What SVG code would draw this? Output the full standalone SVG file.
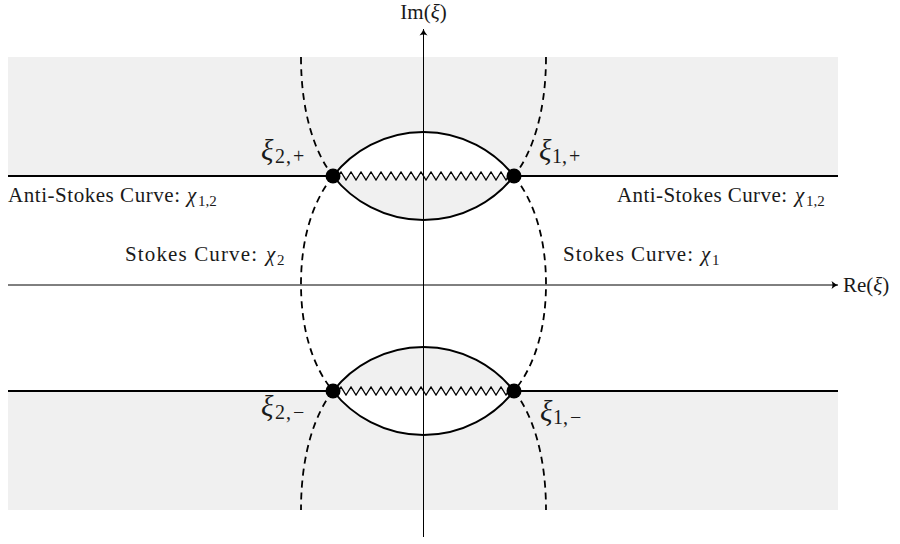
<svg xmlns="http://www.w3.org/2000/svg" width="900" height="544" viewBox="0 0 900 544">
<style>
  .region { fill: #f0f0f0; stroke: none; }
  .white { fill: #ffffff; stroke: none; }
  .axis { stroke: #000; stroke-width: 1; fill: none; }
  .thick { stroke: #000; stroke-width: 2; fill: none; }
  .dash { stroke: #000; stroke-width: 1.8; fill: none; stroke-dasharray: 7 5; }
  .zig { stroke: #000; stroke-width: 1.3; fill: none; stroke-linejoin: miter; }
  .dot { fill: #000; }
  .lbl { font-family: "Liberation Serif", "DejaVu Serif", serif; font-size: 21px; fill: #1a1a1a; }
  .mi { font-family: "Liberation Serif", "DejaVu Serif", serif; font-style: italic; fill: #1a1a1a; }
  .sub { font-family: "Liberation Serif", "DejaVu Serif", serif; fill: #1a1a1a; }
</style>
<defs>
  <marker id="arr" viewBox="-6 -5 8 10" refX="1" refY="0" markerWidth="8" markerHeight="10" markerUnits="userSpaceOnUse" orient="auto">
    <path d="M-5.5,-4 Q-2,-1 1,0 Q-2,1 -5.5,4 Q-3.5,0 -5.5,-4 Z" fill="#000"/>
  </marker>
</defs>

<g id="regions">
  <rect class="region" x="8" y="57" width="830" height="119"/>
  <rect class="region" x="8" y="391" width="830" height="119"/>
  <path class="white" d="M333,176 A115,115 0 0 1 514,176 Z"/>
  <path class="region" d="M333,176 A115,115 0 0 0 514,176 Z"/>
  <path class="region" d="M333,391 A115,115 0 0 1 514,391 Z"/>
  <path class="white" d="M333,391 A115,115 0 0 0 514,391 Z"/>
</g>

<g id="axes">
  <line class="axis" x1="8" y1="285" x2="838" y2="285" marker-end="url(#arr)"/>
  <line class="axis" x1="423.5" y1="537" x2="423.5" y2="29" marker-end="url(#arr)"/>
</g>

<g id="connectors">
  <line class="thick" x1="8" y1="176" x2="333" y2="176"/>
  <line class="thick" x1="514" y1="176" x2="838" y2="176"/>
  <line class="thick" x1="8" y1="391" x2="333" y2="391"/>
  <line class="thick" x1="514" y1="391" x2="838" y2="391"/>
  <path class="thick" d="M333,176 A115,115 0 0 1 514,176"/>
  <path class="thick" d="M333,176 A115,115 0 0 0 514,176"/>
  <path class="thick" d="M333,391 A115,115 0 0 1 514,391"/>
  <path class="thick" d="M333,391 A115,115 0 0 0 514,391"/>
  <path class="zig" d="M333,176 L338.5,176 l2.5,-4 l5,8 l5,-8 l5,8 l5,-8 l5,8 l5,-8 l5,8 l5,-8 l5,8 l5,-8 l5,8 l5,-8 l5,8 l5,-8 l5,8 l5,-8 l5,8 l5,-8 l5,8 l5,-8 l5,8 l5,-8 l5,8 l5,-8 l5,8 l5,-8 l5,8 l5,-8 l5,8 l5,-8 l5,8 l5,-8 l5,8 l2.5,-4 L514,176"/>
  <path class="zig" d="M333,391 L338.5,391 l2.5,-4 l5,8 l5,-8 l5,8 l5,-8 l5,8 l5,-8 l5,8 l5,-8 l5,8 l5,-8 l5,8 l5,-8 l5,8 l5,-8 l5,8 l5,-8 l5,8 l5,-8 l5,8 l5,-8 l5,8 l5,-8 l5,8 l5,-8 l5,8 l5,-8 l5,8 l5,-8 l5,8 l5,-8 l5,8 l5,-8 l5,8 l2.5,-4 L514,391"/>
  <path class="dash" d="M301,57 C301,115 316,155 333,176"/>
  <path class="dash" d="M333,176 C312,202 301,240 301,284 C301,328 312,366 333,391"/>
  <path class="dash" d="M333,391 C316,412 301,452 301,510"/>
  <path class="dash" d="M546,57 C546,115 531,155 514,176"/>
  <path class="dash" d="M514,176 C535,202 546,240 546,284 C546,328 535,366 514,391"/>
  <path class="dash" d="M514,391 C531,412 546,452 546,510"/>
</g>

<g id="xi2p">
  <circle class="dot" cx="333" cy="176" r="7.5"/>
  <text class="mi" x="261" y="160" font-size="29">ξ</text>
  <text class="sub" x="275 286 293" y="163" font-size="20">2,+</text>
</g>
<g id="xi1p">
  <circle class="dot" cx="514" cy="176" r="7.5"/>
  <text class="mi" x="539" y="160" font-size="29">ξ</text>
  <text class="sub" x="552 562 569" y="163" font-size="20">1,+</text>
</g>
<g id="xi2m">
  <circle class="dot" cx="333" cy="391" r="7.5"/>
  <text class="mi" x="261" y="416" font-size="29">ξ</text>
  <text class="sub" x="275 286 293" y="419" font-size="20">2,−</text>
</g>
<g id="xi1m">
  <circle class="dot" cx="514" cy="391" r="7.5"/>
  <text class="mi" x="540" y="421" font-size="29">ξ</text>
  <text class="sub" x="553 563 570" y="424" font-size="20">1,−</text>
</g>

<g id="labels">
  <text class="lbl" x="8" y="202" textLength="172" lengthAdjust="spacing">Anti-Stokes Curve:</text>
  <text class="mi" x="187" y="202" font-size="21">χ</text>
  <text class="sub" x="198" y="206" font-size="15">1,2</text>
  <text class="lbl" x="617" y="202" textLength="170" lengthAdjust="spacing">Anti-Stokes Curve:</text>
  <text class="mi" x="795" y="202" font-size="21">χ</text>
  <text class="sub" x="806" y="206" font-size="15">1,2</text>
  <text class="lbl" x="125" y="261" textLength="132" lengthAdjust="spacing">Stokes Curve:</text>
  <text class="mi" x="266" y="261" font-size="21">χ</text>
  <text class="sub" x="277" y="265" font-size="15">2</text>
  <text class="lbl" x="563" y="261" textLength="130" lengthAdjust="spacing">Stokes Curve:</text>
  <text class="mi" x="701" y="261" font-size="21">χ</text>
  <text class="sub" x="712" y="265" font-size="15">1</text>
  <text class="lbl" x="843" y="292" font-size="19">Re(<tspan font-style="italic">ξ</tspan>)</text>
  <text class="lbl" x="423.5" y="19" font-size="18" text-anchor="middle">Im(<tspan font-style="italic">ξ</tspan>)</text>
</g>
</svg>
